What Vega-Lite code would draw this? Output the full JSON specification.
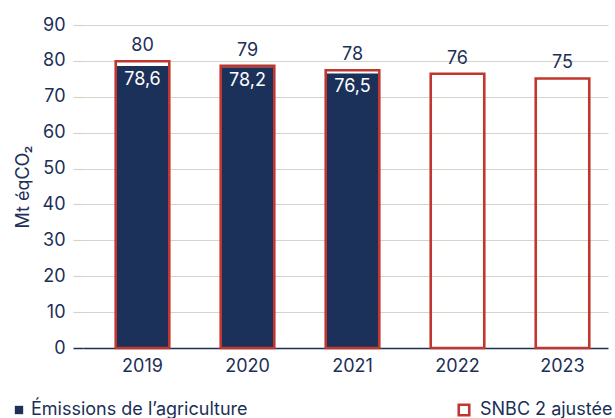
{
  "$schema": "https://vega.github.io/schema/vega-lite/v6.json",
  "width": 525,
  "height": 323,
  "autosize": {"type": "none"},
  "padding": {"left": 90, "top": 25, "right": 0, "bottom": 70},
  "background": "white",
  "config": {
    "font": "Inter",
    "view": {"stroke": null},
    "axis": {"labelFont": "Inter", "titleFont": "Inter", "labelColor": "#1c2f57", "titleColor": "#1c2f57", "labelFontSize": 18, "titleFontSize": 18, "titleFontWeight": "normal"},
    "axisY": {
      "values": [0, 10, 20, 30, 40, 50, 60, 70, 80, 90],
      "offset": 7, "tickSize": 10, "labelPadding": 8, "domain": false,
      "titlePadding": 10, "labelOverlap": false,
      "tickColor": {"condition": {"test": "datum.value === 0", "value": "#1c2f57"}, "value": "#d6d3c8"},
      "gridColor": {"condition": {"test": "datum.value === 0", "value": "#1c2f57"}, "value": "#d6d3c8"},
      "gridWidth": {"condition": {"test": "datum.value === 0", "value": 1.5}, "value": 1.2},
      "tickWidth": {"condition": {"test": "datum.value === 0", "value": 1.5}, "value": 1.2}
    },
    "legend": {"labelFont": "Inter", "labelFontSize": 18, "labelColor": "#1c2f57", "labelLimit": 0}
  },
  "data": {
    "values": [
      {"annee": "2019", "emissions": 78.6, "emissions_label": "78,6", "snbc": 79.9, "snbc_label": "80"},
      {"annee": "2020", "emissions": 78.2, "emissions_label": "78,2", "snbc": 78.6, "snbc_label": "79"},
      {"annee": "2021", "emissions": 76.5, "emissions_label": "76,5", "snbc": 77.4, "snbc_label": "78"},
      {"annee": "2022", "emissions": null, "emissions_label": null, "snbc": 76.4, "snbc_label": "76"},
      {"annee": "2023", "emissions": null, "emissions_label": null, "snbc": 75.1, "snbc_label": "75"}
    ]
  },
  "encoding": {
    "x": {
      "field": "annee", "type": "nominal", "title": null,
      "scale": {"paddingInner": 0.49, "paddingOuter": 0.245},
      "axis": {"labelAngle": 0, "ticks": false, "domain": false, "labelPadding": 9}
    }
  },
  "layer": [
    {
      "mark": {"type": "bar"},
      "encoding": {
        "y": {"field": "emissions", "type": "quantitative", "title": "Mt éqCO₂", "scale": {"domain": [0, 90]}},
        "color": {
          "datum": "Émissions de l’agriculture", "type": "nominal",
          "scale": {"range": ["#1b3159"]},
          "legend": {"title": null, "orient": "none", "legendX": -80, "legendY": 376, "symbolType": "square", "symbolSize": 70, "symbolStrokeWidth": 0, "labelOffset": 3}
        }
      }
    },
    {
      "mark": {"type": "bar", "fill": "transparent", "strokeWidth": 2.6},
      "encoding": {
        "y": {"field": "snbc", "type": "quantitative", "title": "Mt éqCO₂", "scale": {"domain": [0, 90]}},
        "stroke": {
          "datum": "SNBC 2 ajustée", "type": "nominal",
          "scale": {"range": ["#c1362e"]},
          "legend": {"title": null, "orient": "none", "legendX": 365, "legendY": 376, "symbolType": "square", "symbolSize": 110, "symbolStrokeWidth": 2.6, "symbolFillColor": "white", "labelOffset": 7}
        }
      }
    },
    {
      "mark": {"type": "text", "baseline": "bottom", "dy": -6, "fontSize": 18, "color": "#1c2f57", "font": "Inter"},
      "encoding": {
        "y": {"field": "snbc", "type": "quantitative", "title": "Mt éqCO₂", "scale": {"domain": [0, 90]}},
        "text": {"field": "snbc_label"}
      }
    },
    {
      "mark": {"type": "text", "baseline": "top", "dy": 5, "fontSize": 18, "color": "white", "font": "Inter"},
      "encoding": {
        "y": {"field": "emissions", "type": "quantitative", "title": "Mt éqCO₂", "scale": {"domain": [0, 90]}},
        "text": {"field": "emissions_label"}
      }
    }
  ]
}
